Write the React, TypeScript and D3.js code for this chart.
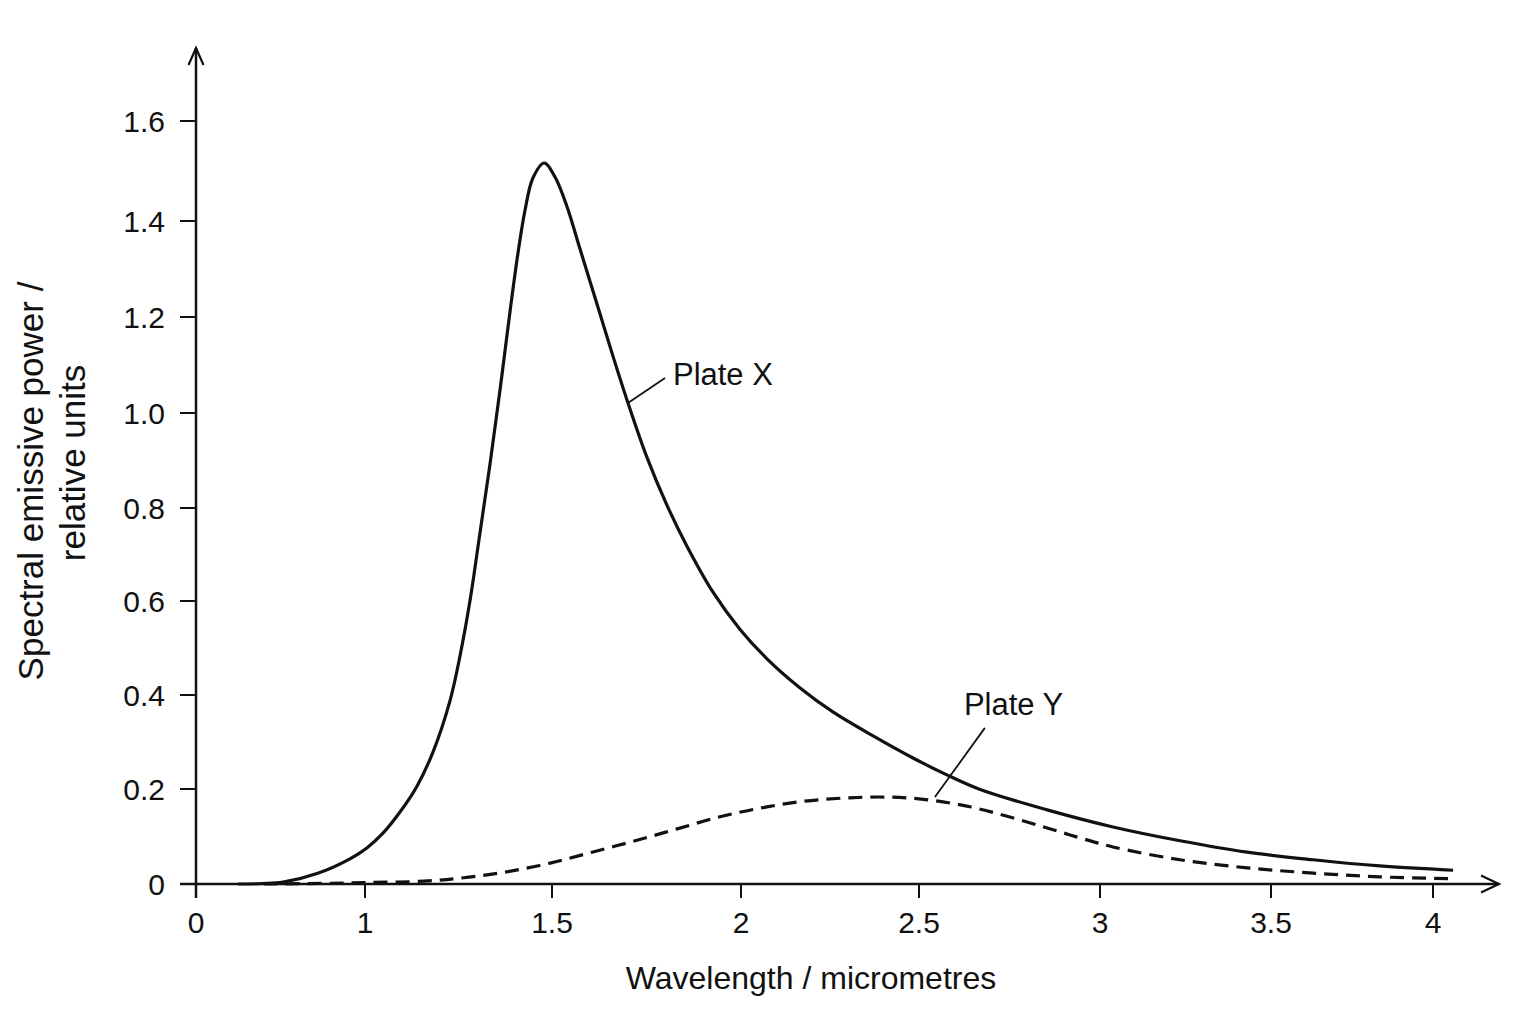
import * as d3 from 'd3'

// Plate X – solid curve (wavelength µm, relative power)
const PLATE_X_WL = [
  0.249, 0.391, 0.515, 0.716, 0.911, 1.005, 1.048, 1.094, 1.139, 1.182, 1.227, 1.254, 1.281,
  1.307, 1.334, 1.361, 1.388, 1.409, 1.428, 1.449, 1.479, 1.508, 1.54, 1.574, 1.619, 1.661,
  1.701, 1.751, 1.804, 1.857, 1.926, 1.997, 2.073, 2.166, 2.258, 2.371, 2.483, 2.577, 2.669,
  2.854, 3.038, 3.234, 3.43, 3.63, 3.836, 4.062,
]
const PLATE_X_POWER = [
  0, 0.001, 0.004, 0.022, 0.053, 0.076, 0.107, 0.152, 0.206, 0.279, 0.387, 0.483, 0.602,
  0.744, 0.891, 1.048, 1.213, 1.333, 1.422, 1.486, 1.516, 1.488, 1.428, 1.342, 1.227, 1.119,
  1.021, 0.907, 0.806, 0.718, 0.619, 0.54, 0.477, 0.415, 0.364, 0.313, 0.266, 0.23, 0.199,
  0.156, 0.12, 0.091, 0.067, 0.051, 0.038, 0.029,
]

// Plate Y – dashed curve
const PLATE_Y_WL = [
  0.4, 0.8, 1.0, 1.158, 1.27, 1.382, 1.495, 1.606, 1.72, 1.831, 1.942, 2.056, 2.174, 2.292,
  2.41, 2.528, 2.644, 2.751, 2.854, 2.945, 3.038, 3.234, 3.43, 3.63, 3.836, 4.062,
]
const PLATE_Y_POWER = [
  0, 0.0015, 0.003, 0.006, 0.0137, 0.026, 0.044, 0.067, 0.091, 0.116, 0.141, 0.16, 0.174,
  0.181, 0.183, 0.177, 0.162, 0.141, 0.118, 0.097, 0.078, 0.051, 0.034, 0.023, 0.015, 0.011,
]

const X_TICKS = [0, 1, 1.5, 2, 2.5, 3, 3.5, 4]
const X_TICK_LABELS = ['0', '1', '1.5', '2', '2.5', '3', '3.5', '4']
const Y_TICKS = [0, 0.2, 0.4, 0.6, 0.8, 1.0, 1.2, 1.4, 1.6]
const Y_TICK_LABELS = ['0', '0.2', '0.4', '0.6', '0.8', '1.0', '1.2', '1.4', '1.6']

// annotations in data units: leader start (on curve), leader end, text anchor
const LABEL_X = { text: 'Plate X', from: [1.701, 1.021], to: [1.799, 1.073], at: [1.82, 1.058] }
const LABEL_Y = { text: 'Plate Y', from: [2.544, 0.183], to: [2.682, 0.33], at: [2.624, 0.357] }

const WIDTH = 1536
const HEIGHT = 1024
const FONT = "'Liberation Sans', Arial, Helvetica, sans-serif"

// the printed axes are hand spaced, so the scales are calibrated against the tick marks
const X_TICK_PX = [196, 365, 552, 741, 919, 1100, 1271, 1433]
const Y_TICK_PX = [884, 789, 695, 601, 508, 413, 317, 221, 121]

const x = d3.scaleLinear().domain(X_TICKS).range(X_TICK_PX)
const y = d3.scaleLinear().domain(Y_TICKS).range(Y_TICK_PX)

const line = d3
  .line<[number, number]>()
  .x((d) => x(d[0]))
  .y((d) => y(d[1]))
  .curve(d3.curveCatmullRom.alpha(0.5))

function App() {
  const x0 = x(0)
  const y0 = y(0)
  const xEnd = 1499
  const yTop = 48

  const plateX = PLATE_X_WL.map((w, i) => [w, PLATE_X_POWER[i]] as [number, number])
  const plateY = PLATE_Y_WL.map((w, i) => [w, PLATE_Y_POWER[i]] as [number, number])

  return (
    <div style={{ position: 'absolute', left: 0, top: 0 }}>
      <svg width={WIDTH} height={HEIGHT} style={{ display: 'block', background: '#fff' }} fontFamily={FONT}>
        {/* axes */}
        <line x1={x0} x2={x0} y1={y0 + 14} y2={yTop} stroke="#111" strokeWidth={2.5} />
        <line x1={x0 - 16} x2={xEnd} y1={y0} y2={y0} stroke="#111" strokeWidth={2.5} />
        <path
          d={`M${x0 - 7.5},${yTop + 17}L${x0},${yTop}L${x0 + 7.5},${yTop + 17}`}
          fill="none"
          stroke="#111"
          strokeWidth={2.2}
        />
        <path
          d={`M${xEnd - 18},${y0 - 8.5}L${xEnd},${y0}L${xEnd - 18},${y0 + 8.5}`}
          fill="none"
          stroke="#111"
          strokeWidth={2.2}
        />

        {X_TICKS.map((t, i) => (
          <g key={`xt${i}`}>
            <line x1={x(t)} x2={x(t)} y1={y0} y2={y0 + 14} stroke="#111" strokeWidth={2} />
            <text x={x(t)} y={933} textAnchor="middle" fontSize={30} fill="#111">
              {X_TICK_LABELS[i]}
            </text>
          </g>
        ))}
        {Y_TICKS.map((t, i) => (
          <g key={`yt${i}`}>
            <line x1={x0 - 16} x2={x0} y1={y(t)} y2={y(t)} stroke="#111" strokeWidth={2} />
            <text x={165} y={y(t) + 11} textAnchor="end" fontSize={30} fill="#111">
              {Y_TICK_LABELS[i]}
            </text>
          </g>
        ))}

        {/* axis titles */}
        <text x={811} y={989} textAnchor="middle" fontSize={32} fill="#111">
          Wavelength / micrometres
        </text>
        <text transform="translate(43,481) rotate(-90)" textAnchor="middle" fontSize={35} fill="#111">
          Spectral emissive power /
        </text>
        <text transform="translate(85,463) rotate(-90)" textAnchor="middle" fontSize={35} fill="#111">
          relative units
        </text>

        {/* curves */}
        <path d={line(plateY) ?? ''} fill="none" stroke="#111" strokeWidth={3.2} strokeDasharray="14 8" />
        <path d={line(plateX) ?? ''} fill="none" stroke="#111" strokeWidth={3.2} />

        {/* labels */}
        {[LABEL_X, LABEL_Y].map((l) => (
          <g key={l.text}>
            <line
              x1={x(l.from[0])}
              y1={y(l.from[1])}
              x2={x(l.to[0])}
              y2={y(l.to[1])}
              stroke="#111"
              strokeWidth={1.8}
            />
            <text x={x(l.at[0])} y={y(l.at[1])} fontSize={31} fill="#111">
              {l.text}
            </text>
          </g>
        ))}
      </svg>
    </div>
  )
}

export default App
